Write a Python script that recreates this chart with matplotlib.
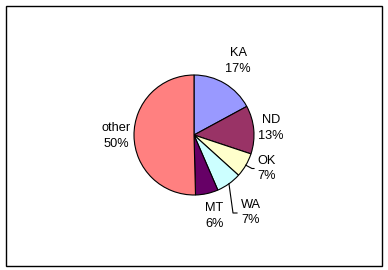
import numpy as np
import matplotlib.pyplot as plt
from matplotlib.patches import Rectangle

# slice data (clockwise from 12 o'clock)
states = ['KA', 'ND', 'OK', 'WA', 'MT', 'other']
shares = [17.1, 13.0, 6.6, 6.8, 6.1, 50.4]
colors = ['#9999FF', '#993366', '#FFFFCC', '#CCFFFF', '#660066', '#FF8080']

# label placement: distance out (in radii) and small angle nudge (deg)
label_dist = [1.44, 1.29, 1.33, 1.60, 1.39, 1.30]
label_turn = [0.0, 0.0, 5.5, 0.5, 1.5, 0.0]

plt.rcParams['font.family'] = ['Liberation Sans', 'DejaVu Sans']

fig = plt.figure(figsize=(3.88, 2.70), dpi=100)
ax = fig.add_axes([0, 0, 1, 1])

cx, cy, r = 194, 135, 60
wedges, _ = ax.pie(shares, colors=colors, startangle=90, counterclock=False,
                   radius=r, center=(cx, cy),
                   wedgeprops=dict(edgecolor='black', linewidth=0.8))

total = sum(shares)
for w, name, val, d, t in zip(wedges, states, shares, label_dist, label_turn):
    ang = np.deg2rad((w.theta1 + w.theta2) / 2 + t)
    x = cx + d * r * np.cos(ang)
    y = cy + d * r * np.sin(ang)
    ax.text(x, y, f'{name}\n{val / total * 100:.0f}%', ha='center', va='center',
            fontsize=9.2, linespacing=1.4)

# leader lines for the small slices
def leader(w, pts):
    ang = np.deg2rad((w.theta1 + w.theta2) / 2)
    x0 = cx + r * np.cos(ang)
    y0 = cy + r * np.sin(ang)
    xs = [x0] + [p[0] for p in pts]
    ys = [y0] + [p[1] for p in pts]
    ax.plot(xs, ys, color='black', lw=0.8)

leader(wedges[2], [(252, 270 - 168.5), (254, 270 - 168.5)])
leader(wedges[3], [(233, 270 - 213), (237, 270 - 213)])

ax.set_xlim(0, 388)
ax.set_ylim(0, 270)
ax.set_aspect('auto')
ax.axis('off')

fig.patches.append(Rectangle((5.5 / 388, 4.5 / 270), 376 / 388, 260 / 270,
                             transform=fig.transFigure, fill=False,
                             edgecolor='black', linewidth=1))

fig.savefig('out.png', dpi=100)
